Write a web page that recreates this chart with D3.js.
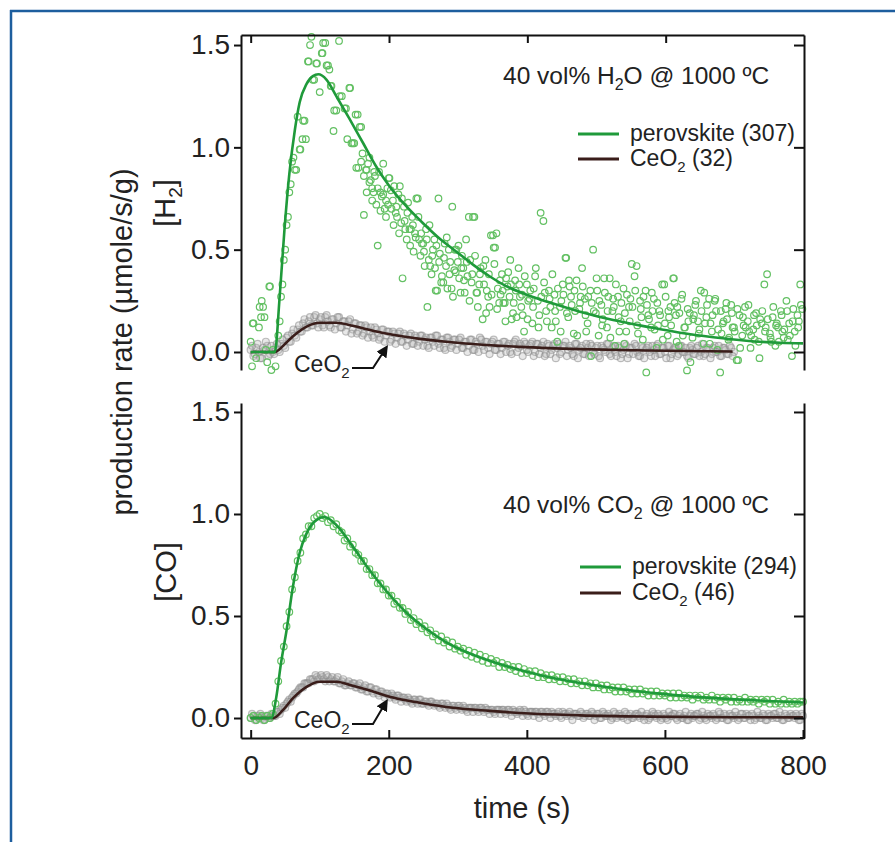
<!DOCTYPE html>
<html>
<head>
<meta charset="utf-8">
<script src="https://cdn.jsdelivr.net/npm/d3@7"></script>
<style>
body { margin: 0; background: #fff; }
svg text { font-family: "Liberation Sans", Arial, Helvetica, sans-serif; fill: #222; }
</style>
</head>
<body>
<div class="canva"></div>
<script>
// tick values
const xTicks = [0, 200, 400, 600, 800];
const yTicks = [0, 0.5, 1.0, 1.5];

// sampling step of the measured points (s); the "Mid" arrays sit 2 s later
const step = 4;

// [H2] panel, perovskite points, one every 4 s from t = 0
const h2Perov = [
  0.05, 0.14, -0.03, 0.12, 0.25, 0.17, -0.05, 0.32, 0.01, -0.07,
  0.08, 0.27, 0.45, 0.62, 0.78, 0.93, 0.89, 1.15, 0.99, 1.13,
  1.04, 1.42, 1.54, 1.33, 1.41, 1.27, 1.46, 1.51, 1.40, 1.30,
  1.08, 1.18, 1.52, 1.25, 1.19, 1.04, 1.29, 1.02, 1.16, 0.90,
  1.10, 0.67, 0.89, 0.95, 0.80, 0.86, 0.52, 0.78, 0.92, 0.74,
  0.85, 0.70, 0.81, 0.66, 0.81, 0.36, 0.60, 0.73, 0.60, 0.49,
  0.75, 0.55, 0.53, 0.42, 0.22, 0.42, 0.50, 0.30, 0.75, 0.34,
  0.46, 0.56, 0.38, 0.71, 0.50, 0.44, 0.29, 0.41, 0.55, 0.66,
  0.34, 0.66, 0.29, 0.38, 0.16, 0.45, 0.27, 0.57, 0.51, 0.58,
  0.24, 0.38, 0.24, 0.32, 0.45, 0.19, 0.30, 0.41, 0.22, 0.10,
  0.33, 0.26, 0.14, 0.37, 0.25, 0.68, 0.64, 0.20, 0.30, 0.12,
  0.28, 0.05, 0.22, 0.33, 0.46, 0.17, 0.27, 0.09, 0.35, 0.21,
  0.41, 0.26, 0.14, 0.30, 0.50, 0.19, 0.08, 0.23, 0.36, 0.12,
  0.36, 0.20, 0.03, 0.27, 0.15, 0.31, 0.10, 0.22, 0.43, 0.37,
  0.13, 0.25, 0.06, 0.30, 0.18, 0.12, 0.26, 0.02, 0.20, 0.33,
  0.14, 0.08, 0.22, 0.36, 0.18, 0.03, 0.26, 0.12, -0.09, 0.19,
  0.07, 0.23, 0.15, 0.30, 0.04, 0.17, 0.26, 0.10, 0.25, 0.01,
  -0.10, 0.14, 0.21, 0.06, 0.23, 0.12, -0.04, 0.18, 0.08, 0.22,
  0.15, 0.02, 0.11, 0.19, 0.05, 0.14, 0.33, 0.38, 0.09, 0.17,
  0.03, 0.12, 0.20, 0.07, 0.25, 0.14, -0.02, 0.10, 0.18, 0.33
];

// [H2] panel, perovskite points off the 4 s grid, [t, value]
const h2PerovExtra = [
  [2, -0.07], [3, 0.14], [13, 0.22], [15, 0.17], [18, 0.22], [22, 0.01], [27, 0.32], [30, -0.088],
  [42, 0.15], [46, 0.33], [50, 0.5], [54, 0.66], [58, 0.82], [62, 0.95], [66, 0.89], [71, 0.99],
  [75, 1.04], [78, 1.13], [83, 1.42], [86, 1.5], [90, 1.33], [95, 1.41], [103, 1.46], [105, 1.51],
  [110, 1.40], [114, 1.38], [117, 1.30], [121, 1.18], [129, 1.25], [138, 1.19], [143, 1.29], [146, 1.02],
  [150, 1.02], [153, 0.9], [155, 1.16], [158, 1.1], [162, 0.97], [167, 0.89], [170, 0.92], [174, 0.84],
  [178, 0.78], [182, 0.72], [186, 0.88], [190, 0.76], [194, 0.70], [198, 0.80], [201, 0.85], [206, 0.74],
  [210, 0.68], [214, 0.77], [218, 0.63], [222, 0.71], [226, 0.55], [230, 0.6], [234, 0.66], [238, 0.58],
  [242, 0.75], [246, 0.47], [250, 0.53], [254, 0.6], [258, 0.45], [262, 0.38], [266, 0.55], [270, 0.3],
  [274, 0.48], [279, 0.34], [283, 0.42], [287, 0.5], [291, 0.31], [295, 0.4], [298, 0.5], [302, 0.36],
  [306, 0.47], [310, 0.29], [314, 0.37], [318, 0.45], [322, 0.66], [327, 0.29], [331, 0.33], [337, 0.42],
  [342, 0.3], [346, 0.22], [351, 0.57], [354, 0.51], [358, 0.31], [362, 0.28], [366, 0.24], [370, 0.36],
  [375, 0.27], [378, 0.16], [383, 0.35], [390, 0.27], [394, 0.18], [402, 0.25], [410, 0.31], [418, 0.18],
  [426, 0.29], [434, 0.22], [442, 0.15], [450, 0.25], [457, 0.46], [462, 0.32], [470, 0.2], [478, 0.27],
  [486, 0.1], [494, 0.24], [502, 0.3], [510, 0.16], [518, 0.27], [526, 0.22], [534, 0.1], [542, 0.19],
  [550, 0.26], [559, 0.42], [566, 0.17], [574, 0.23], [582, 0.2], [590, 0.13], [599, 0.33], [606, 0.17],
  [613, 0.36], [618, 0.22], [626, 0.08], [634, 0.15], [642, 0.18], [650, 0.11], [657, 0.29], [666, 0.14],
  [674, 0.2], [682, 0.09], [690, 0.16], [698, 0.12], [706, -0.04], [714, 0.13], [722, 0.1], [730, 0.06],
  [738, 0.16], [746, 0.12], [754, 0.05], [762, 0.14], [770, 0.1], [778, 0.06], [786, 0.21], [794, 0.15], [799, 0.21],
  [160, 0.93], [164, 0.86], [168, 0.78], [172, 0.83], [176, 0.74], [179, 0.88], [184, 0.80], [188, 0.69],
  [192, 0.77], [196, 0.66], [199, 0.72], [203, 0.79], [207, 0.62], [211, 0.71], [215, 0.58], [219, 0.75],
  [223, 0.64], [227, 0.68], [231, 0.52], [235, 0.62], [239, 0.56], [243, 0.66], [247, 0.58], [251, 0.49],
  [255, 0.55], [259, 0.62], [263, 0.47], [267, 0.41], [269, 0.52], [273, 0.44], [277, 0.37], [281, 0.53],
  [285, 0.31], [289, 0.44], [293, 0.27], [297, 0.39], [301, 0.52], [305, 0.41], [309, 0.35], [313, 0.44],
  [317, 0.25], [321, 0.38], [325, 0.47], [329, 0.22], [333, 0.41], [338, 0.33], [341, 0.19], [345, 0.38],
  [349, 0.28], [353, 0.43], [357, 0.21], [361, 0.35], [365, 0.3], [369, 0.15], [373, 0.39], [377, 0.33],
  [381, 0.24], [385, 0.17], [389, 0.33], [393, 0.28], [397, 0.37], [401, 0.16], [405, 0.3], [409, 0.22],
  [413, 0.41], [417, 0.12], [421, 0.27], [425, 0.34], [429, 0.15], [433, 0.26], [437, 0.38], [441, 0.2],
  [445, 0.31], [449, 0.1], [453, 0.28], [458, 0.19], [461, 0.35], [465, 0.23], [469, 0.3], [473, 0.08],
  [477, 0.24], [481, 0.32], [485, 0.18], [489, 0.27], [493, -0.02], [497, 0.2], [501, 0.36], [505, 0.25],
  [509, 0.13], [513, 0.29], [517, 0.2], [521, 0.07], [525, 0.26], [529, 0.33], [533, 0.17], [537, 0.24],
  [541, 0.04], [545, 0.28], [549, 0.15], [553, 0.22], [557, 0.3], [561, 0.09], [565, 0.21], [569, 0.27],
  [573, -0.1], [577, 0.16], [581, 0.29], [585, 0.11], [589, 0.24], [593, 0.18], [597, 0.06], [601, 0.27],
  [605, 0.2], [609, 0.13], [614, 0.24], [617, 0.05], [621, 0.19], [625, 0.28], [629, 0.12], [633, 0.21],
  [637, -0.05], [641, 0.16], [645, 0.25], [649, 0.09], [653, 0.2], [658, 0.14], [661, 0.23], [665, 0.04],
  [669, 0.18], [673, 0.26], [677, 0.11], [681, 0.2], [685, 0.15], [689, 0.24], [693, 0.07], [697, 0.19],
  [701, 0.1], [705, 0.21], [709, 0.02], [713, 0.17], [717, 0.12], [721, 0.23], [725, 0.08], [729, 0.18],
  [733, 0.13], [737, -0.03], [741, 0.2], [745, 0.1], [749, 0.16], [753, 0.07], [757, 0.22], [761, 0.13],
  [765, 0.05], [769, 0.18], [773, 0.11], [777, 0.2], [781, 0.08], [785, 0.15], [789, 0.03], [793, 0.12], [797, 0.23]
];

// [H2] panel, CeO2 points, one every 4 s from t = 0 to 700
const h2Ceria = [
  0.01, -0.02, 0.02, 0.00, -0.03, 0.01, 0.03, -0.01, 0.00, 0.02,
  0.01, 0.04, 0.03, 0.07, 0.05, 0.09, 0.08, 0.11, 0.10, 0.14,
  0.12, 0.15, 0.13, 0.17, 0.14, 0.16, 0.13, 0.17, 0.15, 0.12,
  0.16, 0.14, 0.17, 0.12, 0.15, 0.13, 0.16, 0.11, 0.14, 0.10,
  0.13, 0.09, 0.12, 0.10, 0.08, 0.12, 0.09, 0.07, 0.11, 0.08,
  0.10, 0.06, 0.09, 0.07, 0.10, 0.05, 0.08, 0.06, 0.09, 0.04,
  0.07, 0.05, 0.08, 0.06, 0.03, 0.07, 0.05, 0.08, 0.04, 0.06,
  0.02, 0.07, 0.05, 0.03, 0.06, 0.04, 0.07, 0.02, 0.05, 0.03,
  0.06, 0.01, 0.04, 0.07, 0.03, 0.05, 0.02, 0.04, 0.06, 0.01,
  0.04, 0.02, 0.05, 0.03, 0.00, 0.04, 0.06, 0.02, 0.03, 0.05,
  0.01, 0.03, 0.05, 0.00, 0.04, 0.02, 0.05, -0.01, 0.03, 0.01,
  0.04, 0.02, -0.01, 0.03, 0.05, 0.01, 0.02, -0.02, 0.04, 0.01,
  0.03, -0.01, 0.02, 0.04, 0.00, 0.02, -0.02, 0.03, 0.01, 0.04,
  -0.01, 0.02, 0.00, 0.03, -0.03, 0.01, 0.03, -0.01, 0.02, 0.04,
  0.00, -0.02, 0.02, 0.01, 0.03, -0.02, 0.01, 0.03, -0.01, 0.02,
  0.00, 0.03, -0.03, 0.01, 0.02, -0.01, 0.03, 0.00, -0.02, 0.02,
  0.01, -0.01, 0.03, 0.00, -0.02, 0.02, 0.01, -0.01, 0.03, 0.00,
  -0.02, 0.02, 0.01, -0.01, 0.02, 0.00
];
// [H2] panel, CeO2 points from t = 2 to 698
const h2CeriaMid = [
  0.03, -0.01, 0.04, -0.03, 0.02, 0.05, -0.02, 0.03, -0.01,
  0.04, 0.00, 0.06, 0.02, 0.08, 0.05, 0.11, 0.07, 0.13, 0.10, 0.16, 0.12, 0.17, 0.13, 0.18, 0.12,
  0.17, 0.12, 0.18, 0.13, 0.16, 0.11, 0.17, 0.12, 0.15, 0.10, 0.15, 0.09, 0.14,
  0.09, 0.13, 0.08, 0.13, 0.07, 0.12, 0.07, 0.11, 0.06, 0.11, 0.05, 0.10, 0.05, 0.10, 0.04, 0.09,
  0.05, 0.09, 0.03, 0.08, 0.04, 0.08, 0.03, 0.08, 0.03,
  0.07, 0.02, 0.07, 0.03, 0.08, 0.02, 0.06, 0.01, 0.07, 0.02, 0.06, 0.01, 0.06, 0.02, 0.05, 0.00,
  0.06, 0.01, 0.05, 0.00, 0.06, 0.01, 0.05, -0.01, 0.05, 0.01, 0.04, -0.01, 0.05, 0.00, 0.04, -0.01,
  0.05, 0.00, 0.04, -0.02, 0.04,
  0.00, 0.04, -0.02, 0.04, -0.01, 0.03, -0.02, 0.04, -0.01, 0.03, -0.03, 0.04, 0.00, 0.03, -0.02,
  0.03, -0.01, 0.04, -0.03, 0.02, -0.01, 0.04, -0.02, 0.03, -0.01, 0.03, -0.03, 0.02, 0.00, 0.04,
  -0.02, 0.03, -0.02, 0.02, -0.01, 0.04, -0.03, 0.02, -0.01, 0.03, -0.02, 0.03, -0.03, 0.02, 0.00,
  0.03, -0.02, 0.04, -0.01, 0.02, -0.03, 0.03, -0.01, 0.02, -0.02, 0.03, 0.00, 0.02, -0.03, 0.03,
  -0.01, 0.02, -0.02, 0.04, -0.01, 0.02, -0.03, 0.02, 0.00, 0.03, -0.02, 0.02, -0.01, 0.03, -0.02
];

// [CO] panel, perovskite points, one every 4 s from t = 0 to 800
const coPerov = [
  0.00, 0.01, -0.01, 0.00, 0.01, -0.01, 0.01, 0.00, 0.02, 0.07,
  0.18, 0.28, 0.35, 0.45, 0.52, 0.63, 0.69, 0.77, 0.81, 0.88,
  0.90, 0.94, 0.94, 0.98, 0.99, 1.00, 0.98, 0.99, 0.96, 0.97,
  0.94, 0.95, 0.92, 0.91, 0.87, 0.88, 0.84, 0.85, 0.81, 0.80,
  0.77, 0.77, 0.73, 0.73, 0.70, 0.70, 0.66, 0.66, 0.63, 0.63,
  0.60, 0.60, 0.56, 0.57, 0.54, 0.54, 0.51, 0.52, 0.48, 0.49,
  0.46, 0.47, 0.44, 0.45, 0.42, 0.43, 0.40, 0.41, 0.38, 0.40,
  0.37, 0.38, 0.35, 0.37, 0.34, 0.35, 0.33, 0.34, 0.31, 0.33,
  0.30, 0.32, 0.29, 0.31, 0.28, 0.30, 0.27, 0.29, 0.27, 0.28,
  0.25, 0.27, 0.25, 0.26, 0.24, 0.25, 0.23, 0.25, 0.22, 0.24,
  0.22, 0.23, 0.21, 0.23, 0.20, 0.22, 0.20, 0.21, 0.19, 0.21,
  0.19, 0.20, 0.18, 0.20, 0.18, 0.19, 0.17, 0.19, 0.17, 0.18,
  0.16, 0.18, 0.16, 0.17, 0.15, 0.17, 0.15, 0.16, 0.14, 0.16,
  0.14, 0.15, 0.13, 0.15, 0.13, 0.15, 0.13, 0.14, 0.12, 0.14,
  0.12, 0.14, 0.12, 0.13, 0.11, 0.13, 0.11, 0.13, 0.11, 0.12,
  0.11, 0.12, 0.10, 0.12, 0.10, 0.12, 0.10, 0.11, 0.10, 0.11,
  0.09, 0.11, 0.10, 0.11, 0.09, 0.10, 0.09, 0.11, 0.09, 0.10,
  0.08, 0.10, 0.09, 0.10, 0.08, 0.10, 0.08, 0.09, 0.08, 0.10,
  0.08, 0.09, 0.08, 0.09, 0.07, 0.09, 0.08, 0.09, 0.07, 0.09,
  0.07, 0.08, 0.07, 0.09, 0.07, 0.08, 0.07, 0.08, 0.07, 0.08,
  0.08
];

// [CO] panel, CeO2 points, one every 4 s from t = 0 to 800
const coCeria = [
  0.00, 0.01, -0.01, 0.01, 0.00, -0.01, 0.01, 0.00, 0.01, 0.01,
  0.03, 0.04, 0.06, 0.07, 0.09, 0.10, 0.12, 0.13, 0.15, 0.15,
  0.17, 0.17, 0.19, 0.18, 0.20, 0.19, 0.20, 0.18, 0.20, 0.19,
  0.18, 0.19, 0.17, 0.18, 0.16, 0.17, 0.16, 0.17, 0.15, 0.16,
  0.14, 0.15, 0.13, 0.15, 0.13, 0.14, 0.12, 0.13, 0.12, 0.12,
  0.11, 0.12, 0.10, 0.11, 0.10, 0.10, 0.09, 0.10, 0.08, 0.09,
  0.08, 0.09, 0.07, 0.08, 0.07, 0.08, 0.07, 0.07, 0.06, 0.07,
  0.06, 0.07, 0.05, 0.06, 0.05, 0.06, 0.05, 0.06, 0.04, 0.05,
  0.05, 0.05, 0.04, 0.05, 0.04, 0.05, 0.04, 0.04, 0.03, 0.04,
  0.04, 0.04, 0.03, 0.04, 0.03, 0.04, 0.03, 0.03, 0.03, 0.04,
  0.02, 0.03, 0.03, 0.03, 0.02, 0.03, 0.02, 0.03, 0.02, 0.03,
  0.02, 0.02, 0.01, 0.03, 0.02, 0.02, 0.01, 0.02, 0.02, 0.01,
  0.02, 0.01, 0.02, 0.01, 0.02, 0.01, 0.02, 0.00, 0.02, 0.01,
  0.01, 0.00, 0.02, 0.01, 0.01, 0.00, 0.02, 0.01, 0.00, 0.01,
  0.02, 0.00, 0.01, 0.01, -0.01, 0.01, 0.02, 0.00, 0.01, 0.00,
  0.01, -0.01, 0.01, 0.02, 0.00, 0.01, 0.00, 0.01, -0.01, 0.01,
  0.00, 0.01, 0.02, 0.00, 0.01, -0.01, 0.01, 0.00, 0.01, 0.00,
  0.02, 0.00, 0.01, -0.01, 0.01, 0.00, 0.01, 0.00, 0.02, 0.00,
  0.01, -0.01, 0.01, 0.00, 0.01, 0.00, 0.01, -0.01, 0.01, 0.00,
  0.02, 0.00, 0.01, -0.01, 0.01, 0.00, 0.01, 0.00, 0.01, -0.01,
  0.01
];
// [CO] panel, CeO2 points from t = 2 to 798
const coCeriaMid = [
  0.02, -0.01, 0.01, 0.02, -0.01, 0.01, 0.00, 0.02, 0.01,
  0.03, 0.02, 0.05, 0.05, 0.08, 0.08, 0.11, 0.12, 0.14, 0.15, 0.17, 0.17, 0.19, 0.19, 0.21, 0.19,
  0.21, 0.19, 0.21, 0.18, 0.20, 0.18, 0.20, 0.17, 0.19, 0.16, 0.18, 0.16, 0.17,
  0.15, 0.17, 0.14, 0.16, 0.13, 0.15, 0.12, 0.14, 0.11, 0.13, 0.10, 0.12, 0.10, 0.11, 0.09, 0.11,
  0.08, 0.10, 0.08, 0.09, 0.07, 0.09, 0.07, 0.09, 0.07,
  0.08, 0.06, 0.08, 0.06, 0.07, 0.05, 0.07, 0.05, 0.06, 0.04, 0.06, 0.04, 0.06, 0.04, 0.05, 0.03,
  0.05, 0.03, 0.05, 0.03, 0.05, 0.03, 0.04, 0.02, 0.04, 0.02, 0.04, 0.02, 0.04, 0.02, 0.04, 0.01,
  0.03, 0.02, 0.04, 0.01, 0.03,
  0.01, 0.03, 0.01, 0.03, 0.00, 0.03, 0.01, 0.03, 0.00, 0.02,
  0.01, 0.03, 0.00, 0.02, 0.01, 0.03, -0.01, 0.02, 0.01, 0.03,
  0.00, 0.02, 0.01, 0.03, -0.01, 0.02, 0.00, 0.03, 0.01, 0.02,
  -0.01, 0.03, 0.00, 0.02, 0.01, 0.03, -0.01, 0.02, 0.00, 0.02,
  0.01, 0.03, -0.01, 0.02, 0.00, 0.03, 0.01, 0.02, -0.01, 0.02,
  0.00, 0.03, 0.01, 0.02, -0.01, 0.02, 0.00, 0.03, -0.01, 0.02,
  0.01, 0.02, -0.01, 0.03, 0.00, 0.02, 0.01, 0.02, -0.01, 0.03,
  0.00, 0.02, -0.01, 0.02, 0.01, 0.03, -0.01, 0.02, 0.00, 0.02,
  0.01, 0.02, -0.01, 0.03, 0.00, 0.02, -0.01, 0.02, 0.01, 0.02,
  0.00, 0.03, -0.01, 0.02, 0.00, 0.02, 0.01, 0.02, -0.01, 0.02
];

// fitted curves, [t, value]
const h2PerovFit = [
  [0, 0], [35, 0], [42, 0.27], [49, 0.6], [56, 0.87], [64, 1.085], [71, 1.22], [81, 1.31],
  [90, 1.348], [98, 1.357], [110, 1.33], [124, 1.25], [143, 1.14], [163, 1.02], [182, 0.905],
  [201, 0.81], [226, 0.71], [250, 0.628], [274, 0.553], [298, 0.49], [322, 0.427], [346, 0.37],
  [370, 0.322], [400, 0.28], [430, 0.245], [477, 0.197], [525, 0.156], [573, 0.124], [622, 0.094],
  [670, 0.072], [718, 0.055], [767, 0.045], [800, 0.042]
];
const h2CeriaFit = [
  [0, 0], [35, 0], [47, 0.03], [56, 0.06], [68, 0.095], [81, 0.124], [100, 0.143], [124, 0.143],
  [148, 0.128], [177, 0.104], [206, 0.084], [245, 0.064], [283, 0.05], [341, 0.034], [390, 0.025],
  [477, 0.014], [573, 0.007], [698, 0.002]
];
const coPerovFit = [
  [0, 0], [30, 0], [37, 0.1], [44, 0.27], [52, 0.43], [61, 0.64], [71, 0.81], [81, 0.905],
  [95, 0.97], [107, 0.985], [124, 0.946], [148, 0.84], [172, 0.725], [197, 0.62], [226, 0.515],
  [255, 0.435], [284, 0.37], [322, 0.31], [370, 0.255], [420, 0.21], [480, 0.17], [540, 0.14],
  [600, 0.117], [660, 0.1], [720, 0.088], [800, 0.076]
];
const coCeriaFit = [
  [0, 0], [33, 0], [47, 0.04], [61, 0.096], [81, 0.153], [100, 0.178], [124, 0.178], [148, 0.158],
  [177, 0.13], [206, 0.1], [245, 0.075], [293, 0.05], [346, 0.035], [404, 0.022], [477, 0.013],
  [573, 0.007], [700, 0.004], [800, 0.003]
];

const green = "#1f9a3a";
const greenDot = "#63c063";
const brown = "#3a1d1a";

const svg = d3.select(".canva").append("svg")
    .attr("width", 895)
    .attr("height", 842);

// blue page frame
svg.append("line").attr("x1", 10).attr("y1", 11).attr("x2", 895).attr("y2", 11)
    .attr("stroke", "#1d5e9e").attr("stroke-width", 2.5);
svg.append("line").attr("x1", 11).attr("y1", 10).attr("x2", 11).attr("y2", 842)
    .attr("stroke", "#1d5e9e").attr("stroke-width", 2.5);

const x = d3.scaleLinear().domain([-14, 800]).range([241, 803]);
const yTop = d3.scaleLinear().domain([-0.088, 1.549]).range([370, 35]);
const yBot = d3.scaleLinear().domain([-0.098, 1.544]).range([738, 403]);

const onGrid = (arr, t0) => arr.map((v, i) => [t0 + i * step, v]);

function grayDots(data, y) {
    svg.append("g").selectAll("circle")
        .data(data)
        .join("circle")
        .attr("cx", d => x(d[0]))
        .attr("cy", d => y(d[1]))
        .attr("r", 3.5)
        .attr("fill", "#b4b4b4")
        .attr("fill-opacity", 0.3)
        .attr("stroke", "#8c8c8c")
        .attr("stroke-opacity", 0.55)
        .attr("stroke-width", 1.2);
}

function greenDots(data, y) {
    svg.append("g").selectAll("circle")
        .data(data)
        .join("circle")
        .attr("cx", d => x(d[0]))
        .attr("cy", d => y(d[1]))
        .attr("r", 3.3)
        .attr("fill", "none")
        .attr("stroke", greenDot)
        .attr("stroke-width", 1.2);
}

function fitLine(data, y, color) {
    svg.append("path")
        .datum(data)
        .attr("fill", "none")
        .attr("stroke", color)
        .attr("stroke-width", 2.6)
        .attr("d", d3.line().x(d => x(d[0])).y(d => y(d[1])).curve(d3.curveMonotoneX));
}

// top panel marks
grayDots(onGrid(h2Ceria, 0).concat(onGrid(h2CeriaMid, 2)), yTop);
greenDots(onGrid(h2Perov, 0).concat(h2PerovExtra), yTop);
fitLine(h2CeriaFit, yTop, brown);
fitLine(h2PerovFit, yTop, green);

// bottom panel marks
grayDots(onGrid(coCeria, 0).concat(onGrid(coCeriaMid, 2)), yBot);
greenDots(onGrid(coPerov, 0), yBot);
fitLine(coCeriaFit, yBot, brown);
fitLine(coPerovFit, yBot, green);

function styleAxis(g) {
    g.selectAll("path, line").attr("stroke", "#111").attr("stroke-width", 2);
    g.selectAll("text")
        .attr("font-size", 28)
        .attr("font-family", "Liberation Sans, Arial, sans-serif")
        .attr("fill", "#222");
}

// top panel axes
svg.append("g").attr("transform", "translate(241,0)")
    .call(d3.axisLeft(yTop).tickValues(yTicks).tickSizeInner(7).tickSizeOuter(0)
        .tickPadding(4).tickFormat(d3.format(".1f")))
    .call(styleAxis);
svg.append("g").attr("transform", "translate(804,0)")
    .call(d3.axisRight(yTop).tickValues(yTicks).tickSizeInner(-10).tickSizeOuter(0).tickFormat(""))
    .call(styleAxis);
svg.append("g").attr("transform", "translate(0,35)")
    .call(d3.axisTop(x.copy().range([241, 804])).tickValues([0, 200, 400, 600]).tickSizeInner(-8)
        .tickSizeOuter(0).tickFormat(""))
    .call(styleAxis);

// bottom panel axes
svg.append("g").attr("transform", "translate(241,0)")
    .call(d3.axisLeft(yBot).tickValues(yTicks).tickSizeInner(7).tickSizeOuter(0)
        .tickPadding(4).tickFormat(d3.format(".1f")))
    .call(styleAxis);
svg.append("g").attr("transform", "translate(804,0)")
    .call(d3.axisRight(yBot).tickValues(yTicks).tickSizeInner(-10).tickSizeOuter(0).tickFormat(""))
    .call(styleAxis);
svg.append("g").attr("transform", "translate(0,738)")
    .call(d3.axisBottom(x).tickValues(xTicks).tickSizeInner(-8).tickSizeOuter(0).tickPadding(17))
    .call(styleAxis);
// close the bottom frame to the right axis
svg.append("line").attr("x1", 800).attr("x2", 805).attr("y1", 738).attr("y2", 738)
    .attr("stroke", "#111").attr("stroke-width", 2);

// condition labels
function condition(yBase, gas) {
    const t = svg.append("text").attr("x", 503).attr("y", yBase).attr("font-size", 24.5);
    t.append("tspan").text("40 vol% " + gas);
    t.append("tspan").attr("font-size", 16).attr("dy", 6).text("2");
    t.append("tspan").attr("dy", -6).text((gas === "H" ? "O" : "") + " @ 1000 ºC");
}
condition(84, "H");
condition(513, "CO");

// legends
function legend(yA, yB, xl, perovN, ceriaN) {
    svg.append("line").attr("x1", xl).attr("x2", xl + 41).attr("y1", yA).attr("y2", yA)
        .attr("stroke", green).attr("stroke-width", 3);
    svg.append("line").attr("x1", xl).attr("x2", xl + 41).attr("y1", yB).attr("y2", yB)
        .attr("stroke", brown).attr("stroke-width", 3);
    svg.append("text").attr("x", xl + 52).attr("y", yA + 7).attr("font-size", 23)
        .text("perovskite (" + perovN + ")");
    const t = svg.append("text").attr("x", xl + 52).attr("y", yB + 7).attr("font-size", 23);
    t.append("tspan").text("CeO");
    t.append("tspan").attr("font-size", 15).attr("dy", 6).text("2");
    t.append("tspan").attr("dy", -6).text(" (" + ceriaN + ")");
}
legend(134, 159, 578, 307, 32);
legend(567, 593, 580, 294, 46);

// CeO2 arrows
svg.append("defs").append("marker")
    .attr("id", "head")
    .attr("viewBox", "0 0 10 10")
    .attr("refX", 7).attr("refY", 5)
    .attr("markerWidth", 6).attr("markerHeight", 6)
    .attr("orient", "auto")
    .append("path").attr("d", "M0,0L10,5L0,10z").attr("fill", "#111");

function ceriaTag(xt, yb, tipX, tipY) {
    const t = svg.append("text").attr("x", xt).attr("y", yb).attr("font-size", 23);
    t.append("tspan").text("CeO");
    t.append("tspan").attr("font-size", 15).attr("dy", 6).text("2");
    svg.append("path")
        .attr("d", `M${xt + 58},${yb - 4}H${tipX - 13}L${tipX},${tipY}`)
        .attr("fill", "none")
        .attr("stroke", "#111")
        .attr("stroke-width", 2)
        .attr("marker-end", "url(#head)");
}
ceriaTag(294, 372, 386, 348);
ceriaTag(294, 728, 386, 702);

// axis titles
svg.append("text")
    .attr("transform", "translate(132,342) rotate(-90)")
    .attr("text-anchor", "middle")
    .attr("font-size", 29)
    .text("production rate (µmole/s/g)");

const h2Title = svg.append("text")
    .attr("transform", "translate(175,203) rotate(-90)")
    .attr("text-anchor", "middle")
    .attr("font-size", 29);
h2Title.append("tspan").text("[H");
h2Title.append("tspan").attr("font-size", 19).attr("dy", 7).text("2");
h2Title.append("tspan").attr("dy", -7).text("]");

svg.append("text")
    .attr("transform", "translate(176,572) rotate(-90)")
    .attr("text-anchor", "middle")
    .attr("font-size", 29)
    .text("[CO]");

svg.append("text")
    .attr("x", 522).attr("y", 818)
    .attr("text-anchor", "middle")
    .attr("font-size", 29)
    .text("time (s)");
</script>
</body>
</html>
